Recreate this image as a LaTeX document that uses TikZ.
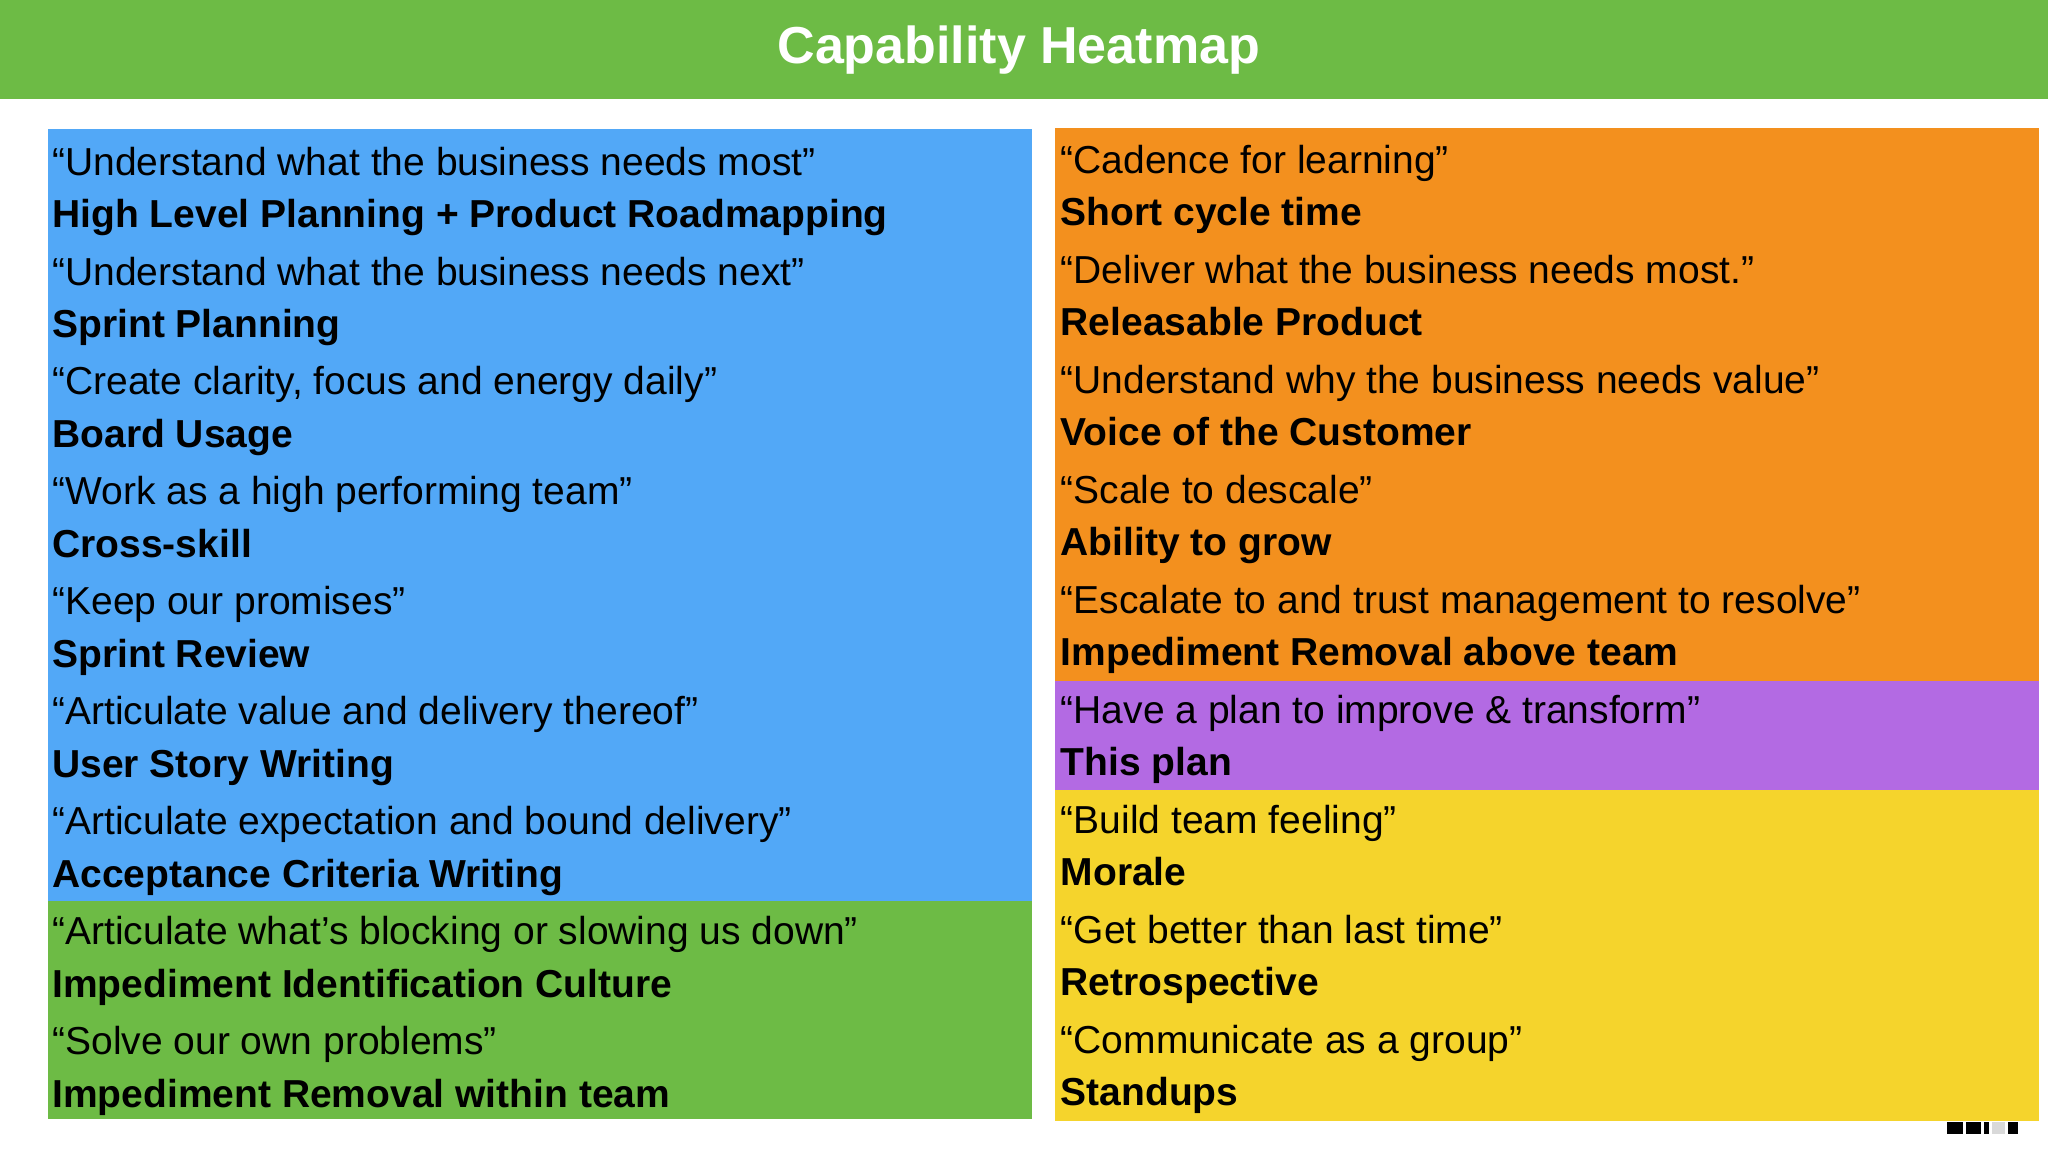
\documentclass[tikz,border=0pt]{standalone}
\usepackage{fontspec}
\setmainfont{Liberation Sans}
\definecolor{gbar}{HTML}{6DBB45}
\definecolor{cblue}{HTML}{52A8F7}
\definecolor{cgreen}{HTML}{6DBB45}
\definecolor{corange}{HTML}{F3901E}
\definecolor{cpurple}{HTML}{B36AE3}
\definecolor{cyellow}{HTML}{F5D42C}
\begin{document}
\begin{tikzpicture}[x=1.30612pt,y=-1.30612pt,
  q/.style={anchor=base west,inner sep=0pt,font=\fontsize{39}{44}\selectfont},
  b/.style={anchor=base west,inner sep=0pt,font=\fontsize{39}{44}\selectfont\bfseries}]
\useasboundingbox (0,0) rectangle (1568,882);
\fill[white] (0,0) rectangle (1568,882);
\fill[gbar] (0,0) rectangle (1568,76);
\node[font=\fontsize{52}{60}\selectfont\bfseries,text=white] (title) at (780,38) {Capability Heatmap};
\fill[cblue] (37,99) rectangle (790,690);
\fill[cgreen] (37,690) rectangle (790,857);
\fill[corange] (808,98) rectangle (1561,521);
\fill[cpurple] (808,521) rectangle (1561,605);
\fill[cyellow] (808,605) rectangle (1561,858);
\foreach \i/\qt/\bt in {0/{“Understand what the business needs most”}/{High Level Planning + Product Roadmapping},
 1/{“Understand what the business needs next”}/{Sprint Planning},
 2/{“Create clarity, focus and energy daily”}/{Board Usage},
 3/{“Work as a high performing team”}/{Cross-skill},
 4/{“Keep our promises”}/{Sprint Review},
 5/{“Articulate value and delivery thereof”}/{User Story Writing},
 6/{“Articulate expectation and bound delivery”}/{Acceptance Criteria Writing},
 7/{“Articulate what’s blocking or slowing us down”}/{Impediment Identification Culture},
 8/{“Solve our own problems”}/{Impediment Removal within team}}
 {\node[q] (lq\i) at (40,134+84.2*\i) {\qt};
  \node[b] (lb\i) at (40,174+84.2*\i) {\bt};}
\foreach \i/\qt/\bt in {0/{“Cadence for learning”}/{Short cycle time},
 1/{“Deliver what the business needs most.”}/{Releasable Product},
 2/{“Understand why the business needs value”}/{Voice of the Customer},
 3/{“Scale to descale”}/{Ability to grow},
 4/{“Escalate to and trust management to resolve”}/{Impediment Removal above team},
 5/{“Have a plan to improve \& transform”}/{This plan},
 6/{“Build team feeling”}/{Morale},
 7/{“Get better than last time”}/{Retrospective},
 8/{“Communicate as a group”}/{Standups}}
 {\node[q] (rq\i) at (812,133+84.2*\i) {\qt};
  \node[b] (rb\i) at (812,173+84.2*\i) {\bt};}
\fill[black] (1491,859) rectangle (1503,868);
\fill[black] (1505,859) rectangle (1517,868);
\fill[black] (1519,859) rectangle (1523,868);
\fill[gray!30] (1525,859) rectangle (1535,868);
\fill[black] (1537,859) rectangle (1545,868);
\end{tikzpicture}
\end{document}
